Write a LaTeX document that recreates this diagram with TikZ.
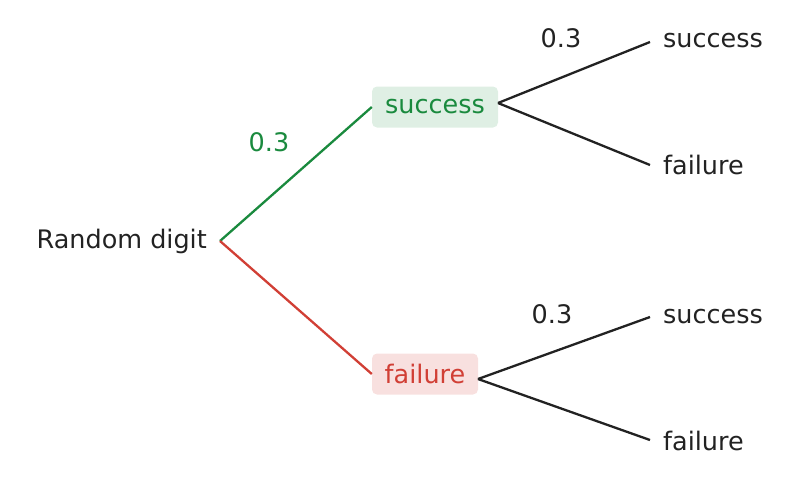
\documentclass[tikz,border=0pt]{standalone}
\usepackage{fontspec}
\setmainfont{DejaVu Sans}
\definecolor{tg}{HTML}{1A8A3E}
\definecolor{tr}{HTML}{D13F35}
\definecolor{tk}{HTML}{222222}
\begin{document}
\begin{tikzpicture}[x=1pt,y=-1pt,
  lab/.style={font=\fontsize{25.5}{30}\selectfont,text=tk,inner sep=0pt},
  line/.style={line width=2.3pt},
  box/.style={rounded corners=5pt,inner sep=0pt,minimum height=41pt}]
\useasboundingbox (0,0) rectangle (798,483);
\node[lab,anchor=east] (root) at (207,241) {Random digit};
\coordinate (r) at (220,241);
\node[box,fill=tg!14,minimum width=126pt,lab,text=tg] (s) at (435,107) {success};
\node[box,fill=tr!16,minimum width=106pt,lab,text=tr] (f) at (425,374) {failure};
\draw[line,tg] (r) -- (s.west);
\draw[line,tr] (r) -- (f.west);
\node[lab,anchor=west] (ss) at (663,41) {success};
\node[lab,anchor=west] (sf) at (663,165) {failure};
\node[lab,anchor=west] (fs) at (663,317) {success};
\node[lab,anchor=west] (ff) at (663,441) {failure};
\coordinate (se) at (498,103);
\coordinate (fe) at (478,379);
\draw[line,tk] (se) -- (650,42) coordinate (a1);
\draw[line,tk] (se) -- (650,165) coordinate (a2);
\draw[line,tk] (fe) -- (650,317) coordinate (a3);
\draw[line,tk] (fe) -- (650,440) coordinate (a4);
\node[lab,text=tg] (p1) at (269,142) {0.3};
\node[lab] (p2) at (561,38) {0.3};
\node[lab] (p3) at (552,314) {0.3};
\end{tikzpicture}
\end{document}
